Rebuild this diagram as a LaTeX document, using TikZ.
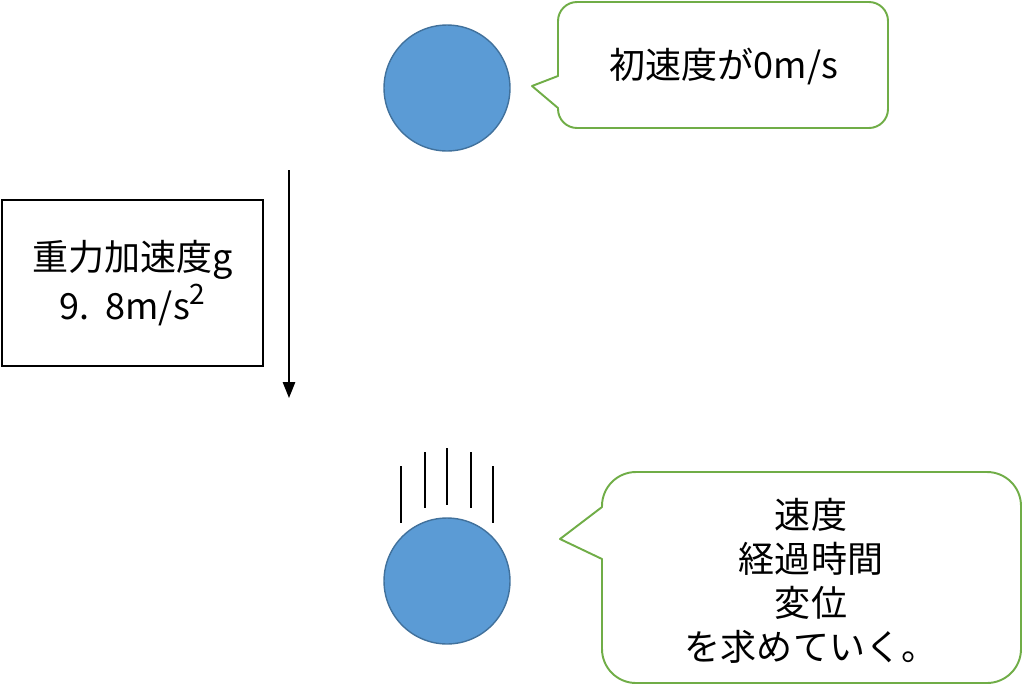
\documentclass[tikz,border=0pt]{standalone}
\usepackage{fontspec}
\setmainfont{Noto Sans CJK JP}
\usetikzlibrary{arrows.meta}

\definecolor{ballblue}{HTML}{5B9BD5}
\definecolor{ballline}{HTML}{41719C}
\definecolor{calloutgreen}{HTML}{70AD47}

\begin{document}
\begin{tikzpicture}[x=0.02cm, y=-0.02cm,
  ball/.style={circle, fill=ballblue, draw=ballline, line width=0.8pt, minimum size=2.52cm, inner sep=0pt},
  callout/.style={draw=calloutgreen, line width=1.1pt, line cap=round, line join=round},
  words/.style={font=\fontsize{20.5pt}{25pt}\selectfont, align=center, inner sep=0pt},
]
\useasboundingbox (0,0) rectangle (1024,687);

\coordinate (A) at (289,170);
\coordinate (B) at (289,398);

% balls
\node[ball] (ball0) at (447,88) {};
\node[ball] (ball1) at (447,581) {};

\foreach \x/\ya/\yb in {401/466/523, 425/452/508, 447/448/505, 471/452/508, 493/466/523}
  \draw[line width=1.6pt] (\x,\ya) -- (\x,\yb);

% gravity
\draw[-{Triangle[length=9pt,width=7pt]}, line width=0.8pt] (A) -- (B);
\node[draw, line width=0.9pt, minimum width=5.22cm, minimum height=3.32cm,
  words, font=\fontsize{20.5pt}{28pt}\selectfont] (gbox) at (132.5,283)
  {重力加速度g\\9.\hspace{0.45em}8m/s\raisebox{0.42em}{\fontsize{16pt}{16pt}\selectfont 2}};

% callouts
\draw[callout, rounded corners=0.38cm] (558,76) -- (558,2) -- (888,2) -- (888,128) -- (558,128) -- (558,108);
\draw[callout] (558,76) -- (532,86) -- (558,108);
\node[words] (tip0) at (724,66) {初速度が0m/s};

\draw[callout, rounded corners=0.68cm] (602,507) -- (602,472) -- (1021,472) -- (1021,683) -- (602,683) -- (602,559);
\draw[callout] (602,507) -- (560,539) -- (602,559);
\node[words] (tip1) at (811,581) {速度\\経過時間\\変位\\を求めていく。};

\end{tikzpicture}
\end{document}
